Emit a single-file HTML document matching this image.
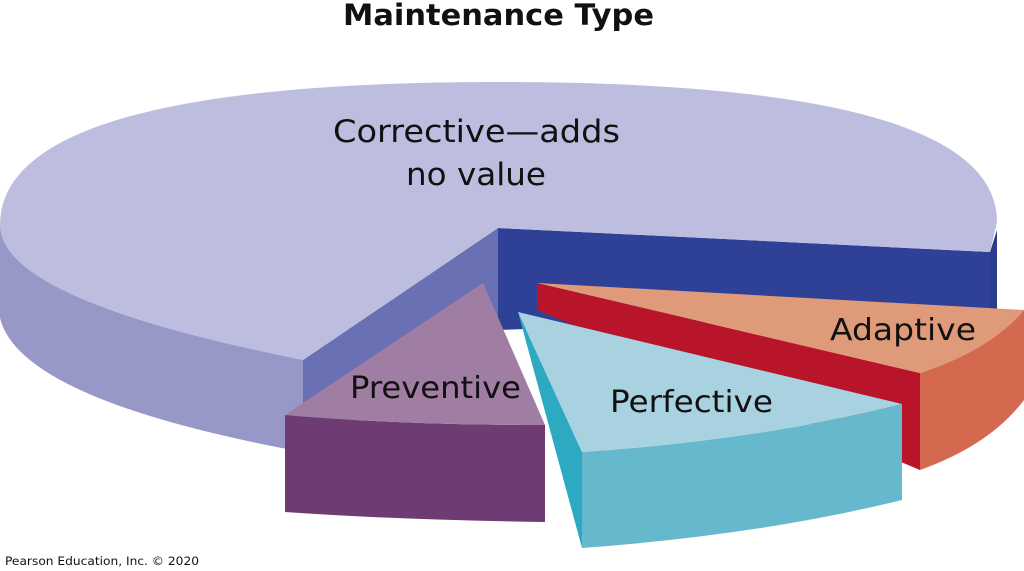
<!DOCTYPE html>
<html><head><meta charset="utf-8"><style>
html,body{margin:0;padding:0;background:#fff;}
svg{display:block;}
text{font-family:"DejaVu Sans","Liberation Sans",sans-serif;fill:#111;}
</style></head><body>
<svg width="1024" height="571" viewBox="0 0 1024 571" xmlns="http://www.w3.org/2000/svg">
<rect width="1024" height="571" fill="#fff"/>
<text x="343" y="25" font-size="29" font-weight="bold" textLength="311" lengthAdjust="spacingAndGlyphs">Maintenance Type</text>
<path d="M0,225 Q10,300 303,360 L303,452 Q20,400 0,318 Z" fill="#9797c8"/>
<path d="M303,360 L498,228 L498,330 L303,452 Z" fill="#6a70b4"/>
<path d="M498,228 L990,252 L990,312 L498,330 Z" fill="#2f4097"/>
<path d="M990,252 L997,230 L997,310 L990,312 Z" fill="#2a3a8c"/>
<path d="M303,360 Q0,300 0,225 Q0,82 498,82 Q997,82 997,222 L990,252 L498,228 Z" fill="#bdbddf"/>
<text x="333" y="142" font-size="31" textLength="287" lengthAdjust="spacingAndGlyphs">Corrective—adds</text>
<text x="406" y="185" font-size="31" textLength="140" lengthAdjust="spacingAndGlyphs">no value</text>
<path d="M920,373 Q990,350 1024,310 L1024,400 Q990,445 920,470 Z" fill="#d4694f"/>
<path d="M537,283 L920,373 L920,470 L537,310 Z" fill="#b8142a"/>
<path d="M537,283 L1024,310 Q990,350 920,373 Z" fill="#df9a7a"/>
<text x="830" y="340" font-size="30" textLength="146" lengthAdjust="spacingAndGlyphs">Adaptive</text>
<path d="M285,415 Q400,425 545,425 L545,522 Q400,520 285,512 Z" fill="#6e3b72"/>
<path d="M483,283 L285,415 Q400,425 545,425 Z" fill="#a07ea4"/>
<text x="350" y="398" font-size="30" textLength="171" lengthAdjust="spacingAndGlyphs">Preventive</text>
<path d="M518,312 L582,452 L582,548 Z" fill="#2ea9c2"/>
<path d="M582,452 Q760,440 902,404 L902,500 Q760,535 582,548 Z" fill="#66b8cc"/>
<path d="M518,312 L902,404 Q760,440 582,452 Z" fill="#a8d2e0"/>
<text x="610" y="412" font-size="30" textLength="163" lengthAdjust="spacingAndGlyphs">Perfective</text>
<text x="5" y="565" font-size="11.5" textLength="194" lengthAdjust="spacingAndGlyphs">Pearson Education, Inc. © 2020</text>
</svg>
</body></html>
